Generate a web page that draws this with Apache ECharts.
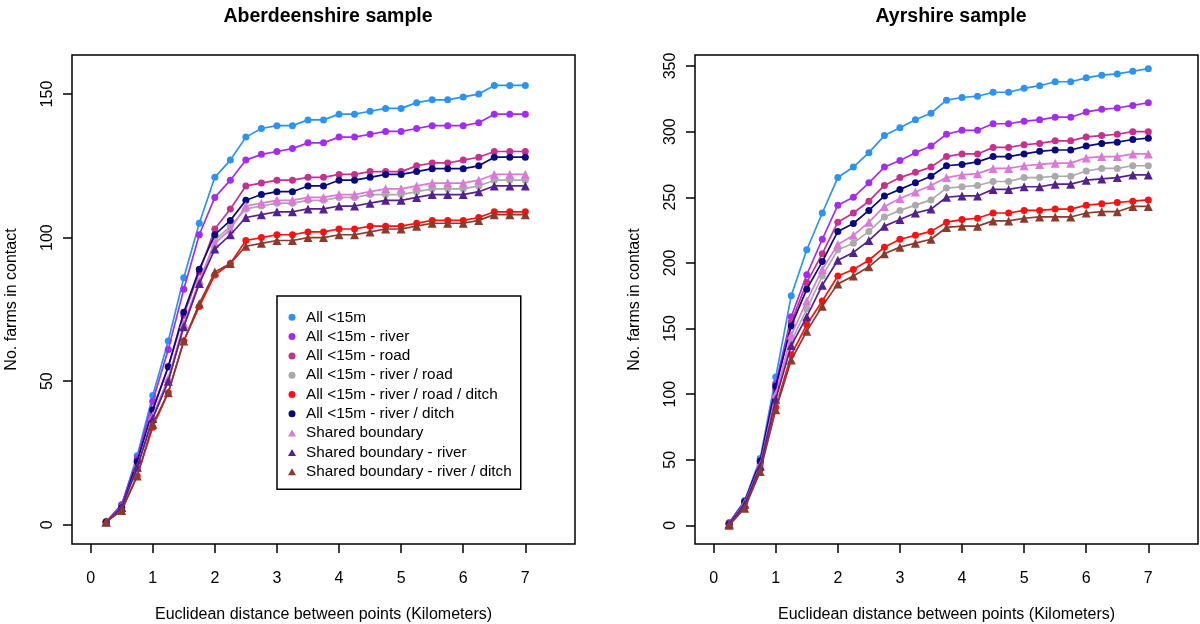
<!DOCTYPE html>
<html><head><meta charset="utf-8">
<script src="https://cdn.jsdelivr.net/npm/echarts@6/dist/echarts.min.js"></script>
<style>html,body{margin:0;padding:0;background:#fff}#c{width:1200px;height:624px}</style>
</head><body><div id="c"></div>
<script>
const distances = [0.25,0.5,0.75,1,1.25,1.5,1.75,2,2.25,2.5,2.75,3,3.25,3.5,3.75,4,4.25,4.5,4.75,5,5.25,5.5,5.75,6,6.25,6.5,6.75,7];
const xTicks = [0,1,2,3,4,5,6,7];
const yTicksAber = [0,50,100,150];
const yTicksAyr = [0,50,100,150,200,250,300,350];
const panelTitles = ['Aberdeenshire sample', 'Ayrshire sample'];
const xTitle = 'Euclidean distance between points (Kilometers)';
const yTitle = 'No. farms in contact';
const seriesNames = ['All <15m','All <15m - river','All <15m - road','All <15m - river / road','All <15m - river / road / ditch','All <15m - river / ditch','Shared boundary','Shared boundary - river','Shared boundary - river / ditch'];

// Aberdeenshire
const aberAll              = [1,7,24,45,64,86,105,121,127,135,138,139,139,141,141,143,143,144,145,145,147,148,148,149,150,153,153,153];
const aberRiver            = [1,7,23,43,61,82,101,114,120,127,129,130,131,133,133,135,135,136,137,137,138,139,139,139,140,143,143,143];
const aberRoad             = [1,6,22,40,55,73,88,103,110,118,119,120,120,121,121,122,122,123,123,123,125,126,126,127,128,130,130,130];
const aberRiverRoad        = [1,6,20,37,50,69,84,99,104,110,111,112,112,113,113,114,114,115,115,115,116,117,117,117,118,120,120,120];
const aberRiverRoadDitch   = [1,5,17,34,46,64,76,87,91,99,100,101,101,102,102,103,103,104,104,104,105,106,106,106,107,109,109,109];
const aberRiverDitch       = [1,6,22,40,55,74,89,101,106,113,115,116,116,118,118,120,120,121,122,122,123,124,124,124,125,128,128,128];
const aberShared           = [1,6,20,38,51,70,85,98,103,111,112,113,113,114,114,115,115,116,117,117,118,119,119,119,120,122,122,122];
const aberSharedRiver      = [1,6,20,37,50,69,84,96,101,107,108,109,109,110,110,111,111,112,113,113,114,115,115,115,116,118,118,118];
const aberSharedRiverDitch = [1,5,17,35,46,64,77,88,91,97,98,99,99,100,100,101,101,102,103,103,104,105,105,105,106,108,108,108];

// Ayrshire
const ayrAll              = [2,19,51,113,175,210,238,265,273,284,297,303,309,314,324,326,327,330,330,333,335,338,338,341,343,344,346,348];
const ayrRiver            = [2,18,49,108,159,191,218,244,250,261,273,278,284,289,298,301,301,306,306,308,309,311,311,315,317,318,320,322];
const ayrRoad             = [1,17,47,104,155,185,207,231,238,247,259,265,269,273,281,283,283,288,288,290,291,293,293,296,297,298,300,300];
const ayrRiverRoad        = [1,16,45,98,140,165,190,210,215,224,235,240,244,248,257,258,259,262,262,265,265,266,266,270,272,272,274,274];
const ayrRiverRoadDitch   = [1,14,43,90,130,153,171,190,195,202,212,218,221,224,231,233,234,238,238,240,240,241,241,244,245,246,247,248];
const ayrRiverDitch       = [1,18,49,106,152,180,201,224,230,240,251,256,261,266,274,275,277,281,281,283,285,286,286,289,291,292,294,295];
const ayrShared           = [1,17,46,100,145,171,195,214,221,231,243,249,254,259,265,267,268,272,272,274,275,276,276,280,281,281,283,283];
const ayrSharedRiver      = [1,16,45,96,137,159,183,202,208,217,228,233,238,241,250,251,251,256,256,258,258,260,260,263,264,265,267,267];
const ayrSharedRiverDitch = [0,13,41,88,126,148,167,184,190,197,207,212,215,218,227,228,228,232,232,234,235,235,235,238,239,239,243,243];

const aberValues = [aberAll,aberRiver,aberRoad,aberRiverRoad,aberRiverRoadDitch,aberRiverDitch,aberShared,aberSharedRiver,aberSharedRiverDitch];
const ayrValues = [ayrAll,ayrRiver,ayrRoad,ayrRiverRoad,ayrRiverRoadDitch,ayrRiverDitch,ayrShared,ayrSharedRiver,ayrSharedRiverDitch];

const colors = ['#2B93F2','#A42CF0','#C8308F','#AAAAAA','#FF1010','#0A0A80','#DB78D8','#56208E','#8C3A2C'];
const symbols = ['circle','circle','circle','circle','circle','circle','triangle','triangle','triangle'];
const TRI_PATH = 'path://M4,0L8,7L0,7Z';

const FONT = "'Liberation Sans', Arial, Helvetica, sans-serif";

function makeSeries(vals, idx) {
  return seriesNames.map((name, i) => ({
    name, type: 'line', xAxisIndex: idx, yAxisIndex: idx,
    data: distances.map((d, j) => [d, vals[i][j]]),
    symbol: symbols[i], symbolSize: symbols[i] === 'triangle' ? 9 : 7,
    color: colors[i],
    lineStyle: { width: 1.7, color: colors[i] },
    itemStyle: { color: colors[i] },
    emphasis: { disabled: true },
    z: 2 + i * 0.01
  }));
}

function xAxis(idx) {
  return {
    type: 'value', gridIndex: idx, min: -0.3, max: 7.8,
    axisLine: { show: false, onZero: false }, splitLine: { show: false },
    axisTick: { show: true, inside: false, length: 9, customValues: xTicks, lineStyle: { color: '#000', width: 1.5 } },
    axisLabel: { customValues: xTicks, margin: 27, fontSize: 16, color: '#000', fontFamily: FONT },
    name: xTitle, nameLocation: 'middle', nameGap: 63,
    nameTextStyle: { fontSize: 16, color: '#000', fontFamily: FONT }
  };
}
function yAxis(idx, min, max, ticks) {
  return {
    type: 'value', gridIndex: idx, min, max,
    axisLine: { show: false, onZero: false }, splitLine: { show: false },
    axisTick: { show: true, inside: false, length: 9, customValues: ticks, lineStyle: { color: '#000', width: 1.5 } },
    axisLabel: { customValues: ticks, rotate: 90, margin: 16, fontSize: 16, color: '#000', fontFamily: FONT },
    name: yTitle, nameLocation: 'middle', nameGap: 52, nameRotate: 90,
    nameTextStyle: { fontSize: 16, color: '#000', fontFamily: FONT }
  };
}

const chart = echarts.init(document.getElementById('c'), null, { renderer: 'canvas' });
chart.setOption({
  animation: false,
  backgroundColor: '#fff',
  title: [
    { text: panelTitles[0], left: 323, top: 2, textAlign: 'center', textStyle: { fontSize: 19.5, fontWeight: 'bold', color: '#000', fontFamily: FONT } },
    { text: panelTitles[1], left: 946, top: 2, textAlign: 'center', textStyle: { fontSize: 19.5, fontWeight: 'bold', color: '#000', fontFamily: FONT } }
  ],
  grid: [
    { left: 72, top: 55, width: 503, height: 489, show: true, borderColor: '#000', borderWidth: 1.5, backgroundColor: 'transparent', containLabel: false, outerBoundsMode: 'none' },
    { left: 695, top: 55, width: 503, height: 489, show: true, borderColor: '#000', borderWidth: 1.5, backgroundColor: 'transparent', containLabel: false, outerBoundsMode: 'none' }
  ],
  xAxis: [xAxis(0), xAxis(1)],
  yAxis: [yAxis(0, -6.7, 163.6, yTicksAber), yAxis(1, -14.2, 358.4, yTicksAyr)],
  legend: {
    orient: 'vertical', left: 277, top: 296,
    padding: [12.8, 9, 9, 11], itemGap: 2.3, itemWidth: 18, itemHeight: 7,
    borderColor: '#000', borderWidth: 1.5, backgroundColor: '#fff',
    selectedMode: false,
    textStyle: { fontSize: 15.3, color: '#000', fontFamily: FONT, lineHeight: 17 },
    data: seriesNames.map((n, i) => ({ name: n, icon: symbols[i] === 'triangle' ? TRI_PATH : 'circle' }))
  },
  series: [...makeSeries(aberValues, 0), ...makeSeries(ayrValues, 1)]
});
</script>
</body></html>
